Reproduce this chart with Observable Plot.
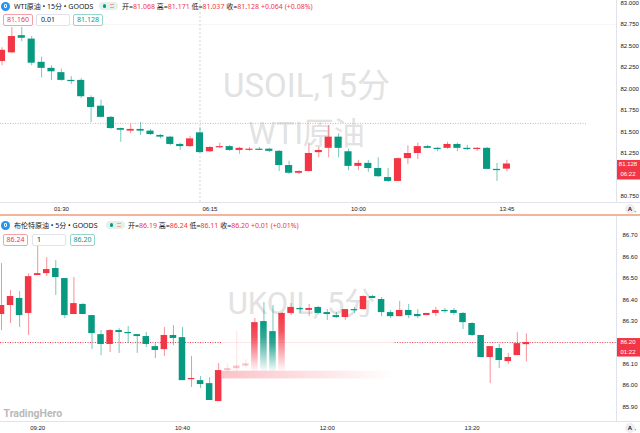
<!DOCTYPE html>
<html>
<head>
<meta charset="utf-8">
<script src="https://cdn.jsdelivr.net/npm/d3@7"></script>
<script src="https://cdn.jsdelivr.net/npm/@observablehq/plot@0.6"></script>
<style>
  html, body { margin:0; padding:0; background:#fff; }
  #root { position:relative; width:640px; height:433px; overflow:hidden; background:#fff; }
  #root svg { position:absolute; left:0; }
  .leg { position:absolute; font-family:"Noto Sans","Noto Sans CJK SC",sans-serif; font-size:7px; color:#131722; white-space:nowrap; line-height:1; }
  .red { color:#f23645; }
  .icon { position:absolute; width:9px; height:9px; border-radius:50%; background:#2196f3; }
  .icon::after { content:""; position:absolute; left:2.8px; top:2.3px; width:3.4px; height:4.4px; border:1px solid #fff; border-radius:1px; box-sizing:border-box; }
  .pill { position:absolute; width:19px; height:8px; border-radius:4px; background:#e2f1ee; }
  .pill .dot { position:absolute; left:3.5px; top:2.3px; width:3.4px; height:3.4px; border-radius:50%; background:#089981; }
  .pill .eq { position:absolute; left:11px; top:2.2px; width:4px; border-top:1px solid #f6a37f; border-bottom:1px solid #f6a37f; height:1.6px; }
  .box { position:absolute; height:12px; border:1px solid #e0e3eb; border-radius:2px; box-sizing:border-box; font-family:"Noto Sans","Liberation Sans",sans-serif; font-size:7px; line-height:10px; text-align:center; background:#fff; color:#131722; }
  .box.b1 { border-color:#f6a1a9; color:#f23645; }
  .box.b3 { border-color:#94d6cb; color:#089981; }
  .box.b2 { text-align:left; padding-left:4px; }
  .hline { position:absolute; left:0; width:640px; height:1px; background:#e0e3eb; }
  .vline { position:absolute; left:616px; width:1px; background:#e0e3eb; }
  .sep { position:absolute; left:0; width:640px; height:2px; background:#f5b29c; }
  .abtn { position:absolute; width:10px; height:10px; border-radius:50%; background:#eceef2; font:bold 6px "Liberation Sans",sans-serif; color:#131722; text-align:center; line-height:10px; }
</style>
</head>
<body>
<div id="root"></div>
<script>
// ================= DATA =================
const ohlcLabels = ["开", "高", "低", "收"];

// ---- WTI crude, 15 min ----
const wtiTitle = "WTI原油 • 15分 • GOODS";
const wtiWatermark = ["USOIL,15分", "WTI原油"];
const wtiOpen = [
  82.32, 82.42, 82.62, 82.58, 82.31, 82.24, 82.19, 82.10, 82.10, 81.90,
  81.80, 81.67, 81.54, 81.51, 81.53, 81.51, 81.46, 81.44, 81.355, 81.33,
  81.49, 81.27, 81.325, 81.33, 81.285, 81.295, 81.30, 81.30, 81.275, 81.11,
  81.02, 81.04, 81.26, 81.31, 81.44, 81.27, 81.10, 81.135, 81.075, 80.97,
  80.925, 81.19, 81.25, 81.33, 81.31, 81.31, 81.355, 81.31, 81.305, 81.31,
  81.065, 81.068];
const wtiHigh = [
  82.48, 82.715, 82.715, 82.61, 82.37, 82.27, 82.23, 82.145, 82.12, 81.92,
  81.87, 81.68, 81.545, 81.59, 81.61, 81.53, 81.47, 81.45, 81.37, 81.45,
  81.55, 81.33, 81.37, 81.345, 81.32, 81.32, 81.32, 81.31, 81.285, 81.16,
  81.05, 81.37, 81.32, 81.575, 81.48, 81.30, 81.17, 81.17, 81.20, 81.075,
  81.20, 81.34, 81.37, 81.345, 81.32, 81.38, 81.37, 81.345, 81.32, 81.32,
  81.135, 81.171];
const wtiLow = [
  82.27, 82.41, 82.55, 82.27, 82.13, 82.10, 82.09, 82.05, 81.89, 81.61,
  81.665, 81.53, 81.38, 81.48, 81.46, 81.46, 81.42, 81.34, 81.285, 81.32,
  81.255, 81.26, 81.31, 81.275, 81.24, 81.275, 81.285, 81.26, 81.04, 81.005,
  81.005, 81.035, 81.20, 81.20, 81.20, 81.05, 81.05, 81.03, 80.97, 80.91,
  80.92, 81.12, 81.18, 81.305, 81.27, 81.30, 81.27, 81.285, 81.275, 81.06,
  80.925, 81.037];
const wtiClose = [
  82.45, 82.61, 82.59, 82.30, 82.24, 82.20, 82.10, 82.095, 81.91, 81.785,
  81.67, 81.54, 81.52, 81.53, 81.51, 81.47, 81.44, 81.355, 81.33, 81.42,
  81.26, 81.32, 81.33, 81.285, 81.31, 81.30, 81.295, 81.275, 81.11, 81.02,
  81.04, 81.25, 81.285, 81.44, 81.31, 81.10, 81.135, 81.075, 80.98, 80.925,
  81.19, 81.25, 81.33, 81.31, 81.305, 81.355, 81.31, 81.305, 81.31, 81.065,
  81.06, 81.128];
const wtiTimeTicks = [6, 21, 36, 51];
const wtiTimeLabels = ["01:30", "06:15", "10:00", "13:45"];
const wtiPriceTicks = [80.75, 81.25, 81.5, 81.75, 82.0, 82.25, 82.5, 82.75, 83.0];
const wtiBoxes = ["81.160", "0.01", "81.128"];
const wtiChange = "+0.064 (+0.08%)";
const wtiCountdown = "06:22";
const wtiRefLine = 81.60;
const wtiCrossBar = 20;
const wtiCrossPrice = 82.75;

// ---- Brent crude, 5 min ----
const brentTitle = "布伦特原油 • 5分 • GOODS";
const brentWatermark = ["UKOIL, 5分"];
const brentOpen = [
  86.331, 86.373, 86.406, 86.336, 86.513, 86.522, 86.546, 86.499, 86.331, 86.378,
  86.326, 86.237, 86.191, 86.256, 86.247, 86.237, 86.228, 86.181, 86.167, 86.233,
  86.223, 86.027, 86.022, 86.008, 85.924, 86.069, 86.078, 86.090, 86.060, 86.298,
  86.251, 86.060, 86.336, 86.359, 86.350, 86.364, 86.340, 86.326, 86.317, 86.354,
  86.354, 86.415, 86.401, 86.340, 86.321, 86.350, 86.331, 86.326, 86.336, 86.350,
  86.350, 86.336, 86.289, 86.233, 86.130, 86.172, 86.111, 86.139, 86.19];
const brentHigh = [
  86.569, 86.443, 86.438, 86.522, 86.649, 86.597, 86.583, 86.499, 86.504, 86.382,
  86.326, 86.256, 86.261, 86.265, 86.275, 86.237, 86.247, 86.195, 86.270, 86.279,
  86.270, 86.135, 86.041, 86.036, 86.102, 86.100, 86.251, 86.120, 86.312, 86.387,
  86.373, 86.340, 86.382, 86.364, 86.378, 86.368, 86.354, 86.340, 86.354, 86.364,
  86.418, 86.420, 86.410, 86.350, 86.392, 86.378, 86.354, 86.336, 86.364, 86.359,
  86.359, 86.340, 86.293, 86.233, 86.181, 86.191, 86.149, 86.247, 86.24];
const brentLow = [
  86.256, 86.289, 86.270, 86.233, 86.513, 86.508, 86.420, 86.312, 86.331, 86.331,
  86.167, 86.139, 86.153, 86.149, 86.195, 86.149, 86.177, 86.125, 86.135, 86.186,
  86.022, 85.990, 85.985, 85.929, 85.924, 86.060, 86.065, 86.080, 86.060, 86.060,
  86.060, 86.060, 86.326, 86.336, 86.321, 86.331, 86.303, 86.312, 86.303, 86.336,
  86.352, 86.406, 86.321, 86.312, 86.321, 86.312, 86.312, 86.326, 86.321, 86.336,
  86.326, 86.261, 86.228, 86.130, 86.008, 86.079, 86.097, 86.139, 86.11];
const brentClose = [
  86.373, 86.415, 86.326, 86.508, 86.522, 86.541, 86.504, 86.326, 86.382, 86.331,
  86.242, 86.191, 86.256, 86.247, 86.242, 86.228, 86.191, 86.163, 86.233, 86.219,
  86.022, 86.032, 86.004, 85.929, 86.069, 86.078, 86.090, 86.100, 86.293, 86.060,
  86.060, 86.336, 86.364, 86.354, 86.359, 86.336, 86.331, 86.317, 86.354, 86.352,
  86.415, 86.406, 86.340, 86.321, 86.350, 86.326, 86.321, 86.336, 86.350, 86.345,
  86.336, 86.293, 86.233, 86.130, 86.181, 86.116, 86.130, 86.195, 86.20];
const brentTimeTicks = [4, 20, 36, 52];
const brentTimeLabels = ["09:20", "10:40", "12:00", "13:20"];
const brentPriceTicks = [85.9, 86.0, 86.1, 86.3, 86.4, 86.5, 86.6, 86.7];
const brentBoxes = ["86.24", "1", "86.20"];
const brentChange = "+0.01 (+0.01%)";
const brentCountdown = "01:22";
const brentDimBars = [25, 26, 27];
const brentSmearBars = [28, 29, 30, 31];
const brentSmearRange = [24.4, 43.5];

// ================= DRAWING =================
const RED = "#f23645", GREEN = "#089981";
const toBars = (O, H, L, C) => O.map((o, i) => ({ i, o, h: H[i], l: L[i], c: C[i], up: C[i] >= o }));

function candleMarks(data, minBody, opacity) {
  const top = d => Math.max(d.o, d.c);
  const bot = d => Math.min(Math.min(d.o, d.c), top(d) - minBody);
  const marks = [];
  for (const [up, col] of [[true, RED], [false, GREEN]]) {
    const sub = data.filter(d => d.up === up);
    marks.push(Plot.ruleX(sub, { x: "i", y1: "l", y2: "h", stroke: col, strokeOpacity: 0.55 * opacity, strokeWidth: 1 }));
    marks.push(Plot.rect(sub, { x1: d => d.i - 0.36, x2: d => d.i + 0.36, y1: bot, y2: top, fill: col, fillOpacity: opacity }));
  }
  return marks;
}
function smearMarks(data, pre) {
  const top = d => Math.max(d.o, d.c), bot = d => Math.min(d.o, d.c);
  const marks = [];
  for (const [up, col, g] of [[true, RED, pre + "fr"], [false, GREEN, pre + "fg"]]) {
    const sub = data.filter(d => d.up === up);
    marks.push(Plot.ruleX(sub, { x: "i", y1: top, y2: "h", stroke: col, strokeOpacity: 0.55 }));
    marks.push(Plot.rect(sub, { x1: d => d.i - 0.36, x2: d => d.i + 0.36, y1: bot, y2: top, fill: `url(#${g})` }));
  }
  return marks;
}
const defsMark = (pre) => () => {
  const defs = d3.create("svg:defs");
  for (const [id, col] of [[pre + "fr", RED], [pre + "fg", GREEN]]) {
    const lg = defs.append("linearGradient").attr("id", id).attr("x1", 0).attr("y1", 0).attr("x2", 0).attr("y2", 1);
    lg.append("stop").attr("offset", 0).attr("stop-color", col).attr("stop-opacity", 1);
    lg.append("stop").attr("offset", 0.3).attr("stop-color", col).attr("stop-opacity", 0.85);
    lg.append("stop").attr("offset", 1).attr("stop-color", col).attr("stop-opacity", 0);
  }
  const h = defs.append("linearGradient").attr("id", pre + "band").attr("x1", 0).attr("y1", 0).attr("x2", 1).attr("y2", 0);
  h.append("stop").attr("offset", 0).attr("stop-color", RED).attr("stop-opacity", 0.3);
  h.append("stop").attr("offset", 0.6).attr("stop-color", RED).attr("stop-opacity", 0.12);
  h.append("stop").attr("offset", 1).attr("stop-color", RED).attr("stop-opacity", 0);
  return defs.node();
};
const priceTag = (price, decimals, sub, boxTop, boxH, subDy) => (index, scales, values, dims) => {
  const y = scales.y(price), x0 = dims.width - dims.marginRight, w = dims.marginRight;
  const g = d3.create("svg:g");
  g.append("rect").attr("x", x0).attr("y", y - boxTop).attr("width", w).attr("height", boxH).attr("fill", RED);
  g.append("text").attr("x", x0 + w / 2).attr("y", y).attr("dy", "0.35em").attr("text-anchor", "middle")
    .attr("fill", "#fff").attr("font-size", 6).text(price.toFixed(decimals));
  g.append("text").attr("x", x0 + w / 2).attr("y", y + subDy).attr("dy", "0.35em").attr("text-anchor", "middle")
    .attr("fill", "#fff").attr("font-size", 6).text(sub);
  return g.node();
};
const baseStyle = { fontFamily: "'Liberation Sans', Arial, sans-serif", fontSize: "6px", background: "transparent", color: "#131722", overflow: "visible" };
const wmStyle = { fill: "#e2e2e2", fontFamily: "Roboto, 'Noto Sans CJK SC', sans-serif", frameAnchor: "middle" };

// ---- top panel ----
const wti = toBars(wtiOpen, wtiHigh, wtiLow, wtiClose);
const wtiLast = wti[wti.length - 1];
const topPlot = Plot.plot({
  width: 640, height: 215, marginLeft: 0, marginRight: 24, marginTop: 0, marginBottom: 13,
  x: { type: "linear", domain: [-0.15, 62.07] },
  y: { type: "linear", domain: [80.680, 83.029] },
  style: baseStyle,
  marks: [
    Plot.text([wtiWatermark[0]], { ...wmStyle, dx: -2, dy: -15, fontSize: 33 }),
    Plot.text([wtiWatermark[1]], { ...wmStyle, dx: -2, dy: 33, fontSize: 31 }),
    Plot.ruleX([wtiCrossBar], { stroke: "#b2b5be", strokeOpacity: 0.6, strokeDasharray: "2,2" }),
    Plot.ruleY([wtiCrossPrice], { stroke: "#b2b5be", strokeOpacity: 0.12 }),
    Plot.ruleY([wtiRefLine], { x1: -0.15, x2: 59.1, stroke: "#f4a3ab", strokeDasharray: "1,1.5" }),
    ...candleMarks(wti, 1.2 * 2.349 / 202, 1),
    Plot.axisX({ ticks: wtiTimeTicks, tickFormat: d => wtiTimeLabels[wtiTimeTicks.indexOf(d)], tickSize: 0, tickPadding: 4 }),
    Plot.axisY({ anchor: "right", ticks: wtiPriceTicks, tickFormat: d => d.toFixed(3), tickSize: 0, tickPadding: 4 }),
    priceTag(wtiLast.c, 3, wtiCountdown, 3.5, 19.5, 10.5)
  ]
});

// ---- bottom panel ----
const brent = toBars(brentOpen, brentHigh, brentLow, brentClose);
const brentLast = brent[brent.length - 1];
const bNormal = brent.filter(d => !brentDimBars.includes(d.i) && !brentSmearBars.includes(d.i));
const bDim = brent.filter(d => brentDimBars.includes(d.i));
const bSmear = brent.filter(d => brentSmearBars.includes(d.i));
const bxDomain = [-0.11, 67.96];
const bottomPlot = Plot.plot({
  width: 640, height: 217, marginLeft: 0, marginRight: 24, marginTop: 0, marginBottom: 12,
  x: { type: "linear", domain: bxDomain },
  y: { type: "linear", domain: [85.831, 86.789] },
  style: baseStyle,
  marks: [
    defsMark("b"),
    Plot.text([brentWatermark[0]], { ...wmStyle, dx: -7, dy: -15, fontSize: 31 }),
    Plot.text(["TradingHero"], { frameAnchor: "bottom-left", textAnchor: "start", lineAnchor: "bottom", dx: 3, dy: -5, fontSize: 10.5, fontWeight: "bold", fill: "#b9b9b9", fontFamily: "Roboto, sans-serif" }),
    Plot.ruleY([brentLast.c], { x1: bxDomain[0], x2: brentSmearRange[0], stroke: RED, strokeDasharray: "1,1.5" }),
    Plot.ruleY([brentLast.c], { x1: brentSmearRange[0], x2: brentSmearRange[1], stroke: RED, strokeOpacity: 0.12 }),
    Plot.ruleY([brentLast.c], { x1: brentSmearRange[1], x2: bxDomain[1], stroke: RED, strokeDasharray: "1,1.5" }),
    ...candleMarks(bNormal, 1.2 * 0.958 / 205, 1),
    ...candleMarks(bDim, 1.2 * 0.958 / 205, 0.3),
    ...smearMarks(bSmear, "b"),
    Plot.rect([brentSmearRange], { x1: d => d[0], x2: d => d[1], y1: 86.03, y2: 86.066, fill: "url(#bband)" }),
    Plot.axisX({ ticks: brentTimeTicks, tickFormat: d => brentTimeLabels[brentTimeTicks.indexOf(d)], tickSize: 0, tickPadding: 4 }),
    Plot.axisY({ anchor: "right", ticks: brentPriceTicks, tickFormat: d => d.toFixed(2), tickSize: 0, tickPadding: 6 }),
    priceTag(brentLast.c, 2, brentCountdown, 4, 18.5, 9.5)
  ]
});

// ---- assemble ----
const root = document.getElementById("root");
topPlot.style.top = "0px";
bottomPlot.style.top = "216px";
root.appendChild(topPlot);
root.appendChild(bottomPlot);

function addDiv(cls, css, html) {
  const d = document.createElement("div");
  d.className = cls;
  Object.assign(d.style, css);
  if (html != null) d.innerHTML = html;
  root.appendChild(d);
  return d;
}
// panel chrome
addDiv("vline", { top: "0px", height: "202px" });
addDiv("hline", { top: "202px" });
addDiv("sep", { top: "214px" });
addDiv("vline", { top: "216px", height: "205px" });
addDiv("hline", { top: "421px" });
addDiv("abtn", { left: "625px", top: "204px" }, "A");
addDiv("abtn", { left: "625px", top: "423px" }, "A");

function legend(top, title, pillLeft, ohlcLeft, last, dec, change, boxes, boxTop, boxLefts, boxWidths) {
  addDiv("icon", { left: "1px", top: (top - 1) + "px" });
  addDiv("leg", { left: "14px", top: top + "px" }, title);
  addDiv("pill", { left: pillLeft + "px", top: (top - 0.5) + "px" }, '<div class="dot"></div><div class="eq"></div>');
  const vals = [last.o, last.h, last.l, last.c];
  const parts = ohlcLabels.map((l, i) => `${l}=<span class="red">${vals[i].toFixed(dec)}</span>`).join(" ");
  addDiv("leg", { left: ohlcLeft + "px", top: top + "px" }, parts + ` <span class="red">${change}</span>`);
  boxes.forEach((b, i) => addDiv("box b" + (i + 1), { left: boxLefts[i] + "px", top: boxTop + "px", width: boxWidths[i] + "px" }, b));
}
legend(2.5, wtiTitle, 99, 122, wtiLast, 3, wtiChange, wtiBoxes, 14, [3, 36, 73], [30, 34, 30]);
legend(221.5, brentTitle, 106, 128, brentLast, 2, brentChange, brentBoxes, 234, [3, 32, 70], [25, 34, 25]);
</script>
</body>
</html>
